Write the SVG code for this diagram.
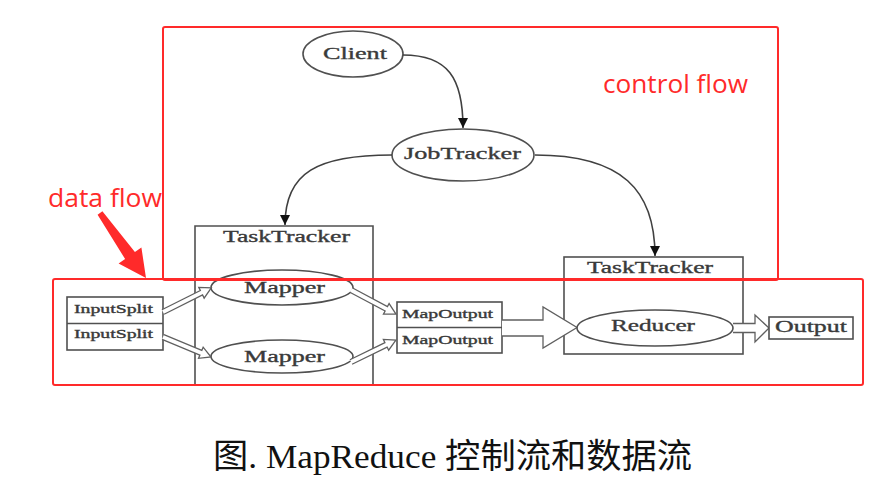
<svg xmlns="http://www.w3.org/2000/svg" width="890" height="493" viewBox="0 0 890 493">
<defs>
<style>
.shape{fill:#fff;stroke:#505050;stroke-width:1.6}
.open{fill:none;stroke:#505050;stroke-width:1.6}
.lbl{font-family:"Liberation Serif","Times New Roman",serif;fill:#3a3a3a;stroke:#3a3a3a;stroke-width:0.35;text-anchor:start}
.small{font-size:12px}
.mid{font-size:16px}
.big{font-size:17px}
.edge{fill:none;stroke:#404040;stroke-width:1.6}
.hollow{fill:#fff;stroke:#606060;stroke-width:1.3;stroke-linejoin:miter}
.red{fill:none;stroke:#ff2a2a;stroke-width:2}
.redtxt{font-family:"Open Sans","Noto Sans","Liberation Sans",sans-serif;font-size:26px;fill:#ff2a2a}
.cap{font-family:"Liberation Serif","Noto Sans CJK SC",serif;font-size:34px;fill:#111}
</style>
<marker id="ah" viewBox="0 0 10 10" refX="10" refY="5" markerWidth="10" markerHeight="10" markerUnits="userSpaceOnUse" orient="auto">
<path d="M0,0 L10,5 L0,10 Z" fill="#111"/>
</marker>
</defs>

<g id="tasktracker1">
<path class="open" d="M195,386 V226 H373 V386"/>
<text class="lbl mid" x="223" y="242" textLength="127" lengthAdjust="spacingAndGlyphs">TaskTracker</text>
</g>
<g id="tasktracker2">
<rect class="shape" x="564" y="257" width="179" height="97"/>
<text class="lbl mid" x="587" y="273" textLength="126" lengthAdjust="spacingAndGlyphs">TaskTracker</text>
</g>

<g id="client">
<ellipse class="shape" cx="353" cy="54" rx="50" ry="23"/>
<text class="lbl big" x="323" y="59" textLength="64" lengthAdjust="spacingAndGlyphs">Client</text>
</g>
<g id="jobtracker">
<ellipse class="shape" cx="463" cy="155" rx="71" ry="26"/>
<text class="lbl big" x="404" y="159" textLength="117" lengthAdjust="spacingAndGlyphs">JobTracker</text>
</g>
<g id="mapper1">
<ellipse class="shape" cx="282" cy="287.5" rx="71" ry="17.5"/>
<text class="lbl mid" x="244" y="293" textLength="81" lengthAdjust="spacingAndGlyphs">Mapper</text>
</g>
<g id="mapper2">
<ellipse class="shape" cx="282" cy="356.5" rx="71" ry="16.5"/>
<text class="lbl mid" x="244" y="362" textLength="81" lengthAdjust="spacingAndGlyphs">Mapper</text>
</g>
<g id="inputsplits">
<rect class="shape" x="67" y="297" width="96" height="53"/>
<line class="open" x1="67" y1="323.5" x2="163" y2="323.5"/>
<text class="lbl small" x="74" y="313" textLength="79" lengthAdjust="spacingAndGlyphs">InputSplit</text>
<text class="lbl small" x="74" y="338" textLength="79" lengthAdjust="spacingAndGlyphs">InputSplit</text>
</g>
<g id="mapoutputs">
<rect class="shape" x="397" y="302" width="105" height="51"/>
<line class="open" x1="397" y1="327.5" x2="502" y2="327.5"/>
<text class="lbl small" x="402" y="318" textLength="91" lengthAdjust="spacingAndGlyphs">MapOutput</text>
<text class="lbl small" x="402" y="344" textLength="91" lengthAdjust="spacingAndGlyphs">MapOutput</text>
</g>

<g id="connectors">
<path class="edge" marker-end="url(#ah)" d="M403,55 C448,55 463,78 463,128"/>
<path class="edge" marker-end="url(#ah)" d="M392,155 C318,155 285,172 285,225"/>
<path class="edge" marker-end="url(#ah)" d="M535,155 C622,155 655,190 655,256"/>
<g transform="translate(163,312) rotate(-26.6)"><path class="hollow" d="M0,-2.5 H43 V-6 L54,0 L43,6 V2.5 H0"/></g>
<g transform="translate(163,337) rotate(22.6)"><path class="hollow" d="M0,-2.5 H41 V-6 L52,0 L41,6 V2.5 H0"/></g>
<g transform="translate(351,290) rotate(28.1)"><path class="hollow" d="M0,-2.5 H40 V-6 L51,0 L40,6 V2.5 H0"/></g>
<g transform="translate(351,362) rotate(-26.1)"><path class="hollow" d="M0,-2.5 H39 V-6 L50,0 L39,6 V2.5 H0"/></g>
<path class="hollow" d="M502,320 H543 V307 L577,327.5 L543,348 V336 H502"/>
<path class="hollow" d="M733,323.5 H755 V315 L769,328 L755,342 V332.5 H733"/>
</g>

<g id="reducer">
<ellipse class="shape" cx="655" cy="328" rx="78" ry="18"/>
<text class="lbl big" x="611" y="331" textLength="84" lengthAdjust="spacingAndGlyphs">Reducer</text>
</g>
<g id="output">
<rect class="shape" x="769" y="317" width="84" height="22"/>
<text class="lbl big" x="775" y="332" textLength="72" lengthAdjust="spacingAndGlyphs">Output</text>
</g>

<g id="annotations">
<rect class="red" x="163" y="27" width="615" height="253" rx="2"/>
<rect class="red" x="53" y="279" width="810" height="106" rx="2"/>
<text class="redtxt" x="603" y="93" textLength="145" lengthAdjust="spacingAndGlyphs">control flow</text>
<text class="redtxt" x="48" y="207" textLength="114" lengthAdjust="spacingAndGlyphs">data flow</text>
<polygon fill="#ff2a2a" points="97.6,214.7 102.4,211.3 134.9,252 141.4,247.5 146,278 118.6,263.5 125.1,259"/>
</g>

<g id="caption">
<text class="cap" x="213" y="468" textLength="479" lengthAdjust="spacingAndGlyphs">图. MapReduce 控制流和数据流</text>
</g>
</svg>
